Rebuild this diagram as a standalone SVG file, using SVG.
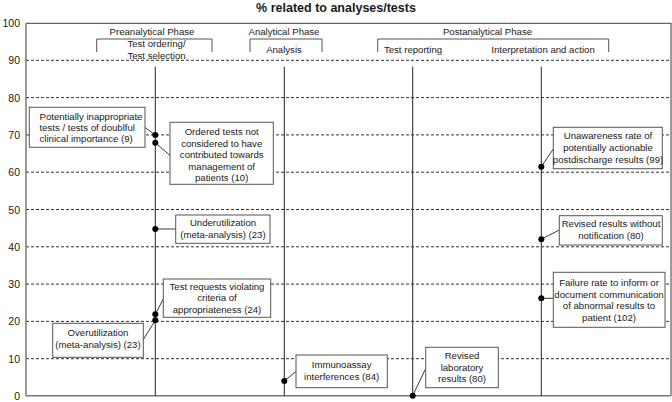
<svg xmlns="http://www.w3.org/2000/svg" width="672" height="402" viewBox="0 0 672 402">
<style>
text{font-family:"Liberation Sans",Arial,sans-serif;font-size:9.6px;fill:#1a1a1a}
.t{font-weight:bold;font-size:12.5px;text-anchor:middle}
.ax{font-size:10.5px;text-anchor:end}
.c{text-anchor:middle}
.grid{stroke:#333;stroke-width:1;stroke-dasharray:3 2;fill:none}
.frame{stroke:#666;stroke-width:1.3;fill:none}
.br{stroke:#555;stroke-width:1;fill:none}
.v{stroke:#222;stroke-width:1;fill:none}
.box rect{fill:#fff;stroke:#555;stroke-width:1}
.con line{stroke:#222;stroke-width:0.9}
.con circle{fill:#000}
</style>
<rect width="672" height="402" fill="#fff"/>
<text class="t" x="336" y="12">% related to analyses/tests</text>
<g id="axis">
<path class="grid" d="M26 60.3H671M26 97.6H671M26 134.9H671M26 172.2H671M26 209.5H671M26 246.8H671M26 284.1H671M26 321.4H671M26 358.7H671"/>
<path class="frame" d="M26 23.3H671V395.8M26 23.3V395.8"/>
<path d="M26 395.8H671" stroke="#777" stroke-width="1.6"/>
<text class="ax" x="20" y="27">100</text>
<text class="ax" x="20" y="64.3">90</text>
<text class="ax" x="20" y="101.6">80</text>
<text class="ax" x="20" y="138.9">70</text>
<text class="ax" x="20" y="176.2">60</text>
<text class="ax" x="20" y="213.5">50</text>
<text class="ax" x="20" y="250.8">40</text>
<text class="ax" x="20" y="288.1">30</text>
<text class="ax" x="20" y="325.4">20</text>
<text class="ax" x="20" y="362.7">10</text>
<text class="ax" x="20" y="400">0</text>
</g>
<g id="phases">
<text class="c" x="152" y="35">Preanalytical Phase</text>
<text class="c" x="284" y="35">Analytical Phase</text>
<text class="c" x="487.5" y="35">Postanalytical Phase</text>
<path class="br" d="M96.7 52V39H212V52M250 52V39H322V52M377.7 52V39H608.7V52"/>
<text class="c" x="156.5" y="47">Test ordering/</text>
<text class="c" x="156.5" y="59">Test selection</text>
<text class="c" x="284" y="52.5">Analysis</text>
<text class="c" x="413" y="52.5">Test reporting</text>
<text class="c" x="543" y="52.5">Interpretation and action</text>
<path class="v" d="M155.3 66.7V395.8M284.3 66.7V395.8M412.7 66.7V395.8M541.3 66.7V395.8"/>
</g>
<g id="connectors" class="con">
<line x1="145" y1="127.5" x2="155.3" y2="135"/>
<line x1="155.3" y1="142.7" x2="170" y2="155.5"/>
<line x1="155.3" y1="229" x2="175.7" y2="229"/>
<line x1="155.3" y1="314.3" x2="163.3" y2="299"/>
<line x1="155.3" y1="320.3" x2="143.3" y2="339.5"/>
<line x1="284.3" y1="381" x2="296" y2="371.5"/>
<line x1="412.7" y1="395.7" x2="425.7" y2="368.5"/>
<line x1="541.3" y1="166.7" x2="553.3" y2="149"/>
<line x1="541.3" y1="239.3" x2="559.3" y2="230"/>
<line x1="541.3" y1="298.3" x2="553.3" y2="298.3"/>
<circle cx="155.3" cy="135" r="3"/>
<circle cx="155.3" cy="142.7" r="3"/>
<circle cx="155.3" cy="229" r="3"/>
<circle cx="155.3" cy="314.3" r="3"/>
<circle cx="155.3" cy="320.3" r="3"/>
<circle cx="284.3" cy="381" r="3"/>
<circle cx="412.7" cy="395.7" r="3"/>
<circle cx="541.3" cy="166.7" r="3"/>
<circle cx="541.3" cy="239.3" r="3"/>
<circle cx="541.3" cy="298.3" r="3"/>
</g>
<g id="n1" class="box">
<rect x="29.3" y="107.3" width="115.7" height="40"/>
<text x="39.5" y="119.5">Potentially inappropriate</text>
<text x="39.5" y="131">tests / tests of doublful</text>
<text x="39.5" y="142.3">clinical importance (9)</text>
</g>
<g id="n2" class="box">
<rect x="170" y="122.3" width="103.3" height="62"/>
<text class="c" x="221.7" y="135">Ordered tests not</text>
<text class="c" x="221.7" y="146.6">considered to have</text>
<text class="c" x="221.7" y="158.2">contributed towards</text>
<text class="c" x="221.7" y="169.6">management of</text>
<text class="c" x="221.7" y="181">patients (10)</text>
</g>
<g id="n3" class="box">
<rect x="175.7" y="215" width="94.3" height="28.3"/>
<text class="c" x="223" y="226">Underutilization</text>
<text class="c" x="223" y="238.3">(meta-analysis) (23)</text>
</g>
<g id="n4" class="box">
<rect x="163.3" y="279" width="107.4" height="38.3"/>
<text class="c" x="217" y="289.5">Test requests violating</text>
<text class="c" x="217" y="301.2">criteria of</text>
<text class="c" x="217" y="313">appropriateness (24)</text>
</g>
<g id="n5" class="box">
<rect x="52.7" y="323.3" width="90.6" height="34"/>
<text class="c" x="98" y="336">Overutilization</text>
<text class="c" x="98" y="347.7">(meta-analysis) (23)</text>
</g>
<g id="n6" class="box">
<rect x="296" y="355" width="91.3" height="32.7"/>
<text class="c" x="341.6" y="367.5">Immunoassay</text>
<text class="c" x="341.6" y="379.5">interferences (84)</text>
</g>
<g id="n7" class="box">
<rect x="425.7" y="347.3" width="72.6" height="40.4"/>
<text class="c" x="462" y="359.3">Revised</text>
<text class="c" x="462" y="370.5">laboratory</text>
<text class="c" x="462" y="381.7">results (80)</text>
</g>
<g id="n8" class="box">
<rect x="553.3" y="127.3" width="109" height="41.4"/>
<text class="c" x="608" y="139">Unawareness rate of</text>
<text class="c" x="608" y="151">potentially actionable</text>
<text class="c" x="608" y="163">postdischarge results (99)</text>
</g>
<g id="n9" class="box">
<rect x="559.3" y="215.7" width="103" height="29.3"/>
<text class="c" x="611" y="226.5">Revised results without</text>
<text class="c" x="611" y="238.5">notification (80)</text>
</g>
<g id="n10" class="box">
<rect x="553.3" y="272.3" width="111.7" height="55"/>
<text class="c" x="609" y="286">Failure rate to inform or</text>
<text class="c" x="609" y="297.6">document communication</text>
<text class="c" x="609" y="309.3">of abnormal results to</text>
<text class="c" x="609" y="321">patient (102)</text>
</g>
</svg>
